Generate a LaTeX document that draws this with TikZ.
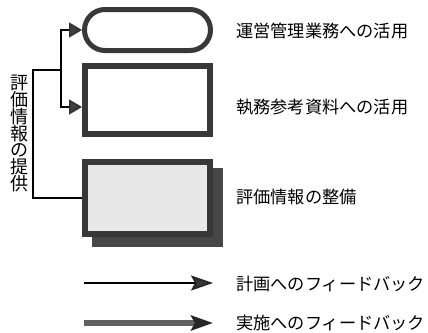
\documentclass[tikz,border=0pt]{standalone}
\usepackage{fontspec}
\setmainfont{Noto Sans CJK JP}
\usetikzlibrary{arrows.meta,calc}
\tikzset{
  boxline/.style={draw=black!78, line width=6pt},
  lbl/.style={anchor=west, inner sep=0pt, font=\fontsize{17.2}{18}\selectfont},
  thinline/.style={draw=black, line width=1.8pt},
  brarrow/.style={thinline, -{Triangle[length=13pt,width=15pt,fill=black!75,color=black!80]}},
  legthin/.style={draw=black, line width=1.8pt, -{Stealth[length=22pt,width=15pt,inset=4pt,fill=black!78,color=black!85]}},
  legthick/.style={draw=black!62, line width=6pt, -{Stealth[length=22pt,width=15pt,inset=4pt,fill=black!78,color=black!85]}},
}
\begin{document}
\begin{tikzpicture}[x=1pt,y=-1pt]
\useasboundingbox (0,0) rectangle (428,332);
% boxes
\node[draw=black!78, line width=5pt, rounded corners=20.5pt, minimum width=126pt, minimum height=41pt, inner sep=0pt] (stad) at (147.5,30) {};
\node[boxline, minimum width=125pt, minimum height=68pt, inner sep=0pt] (r2) at (147.5,100) {};
\node[fill=black!72, minimum width=131pt, minimum height=79pt, inner sep=0pt] (shadow) at (157.5,207.5) {};
\node[boxline, fill=black!9, minimum width=125pt, minimum height=72pt, inner sep=0pt] (r3) at (147.5,198) {};
% bracket
\coordinate (bl) at (33,70);
\coordinate (j) at (61,70);
\coordinate (a2) at (82,107);
\draw[thinline] (r3.west) -| (bl) -- (j);
\draw[brarrow] (j) |- (stad.west);
\draw[brarrow] (j) |- (a2);
\node[inner sep=0pt, align=center, font=\fontsize{18}{16.8}\selectfont] (vt) at (19,133.5) {評\\価\\情\\報\\の\\提\\供};
% labels
\node[lbl] (t1) at (236,31) {運営管理業務への活用};
\node[lbl] (t2) at (236,107) {執務参考資料への活用};
\node[lbl] (t3) at (236,197) {評価情報の整備};
% legend
\coordinate (l1s) at (84,283);
\coordinate (l1e) at (213,283);
\coordinate (l2s) at (84,323);
\coordinate (l2e) at (213,323);
\draw[legthin] (l1s) -- (l1e);
\draw[legthick] (l2s) -- (l2e);
\node[lbl] (t4) at (236,284) {計画へのフィードバック};
\node[lbl] (t5) at (236,323) {実施へのフィードバック};
\end{tikzpicture}
\end{document}
